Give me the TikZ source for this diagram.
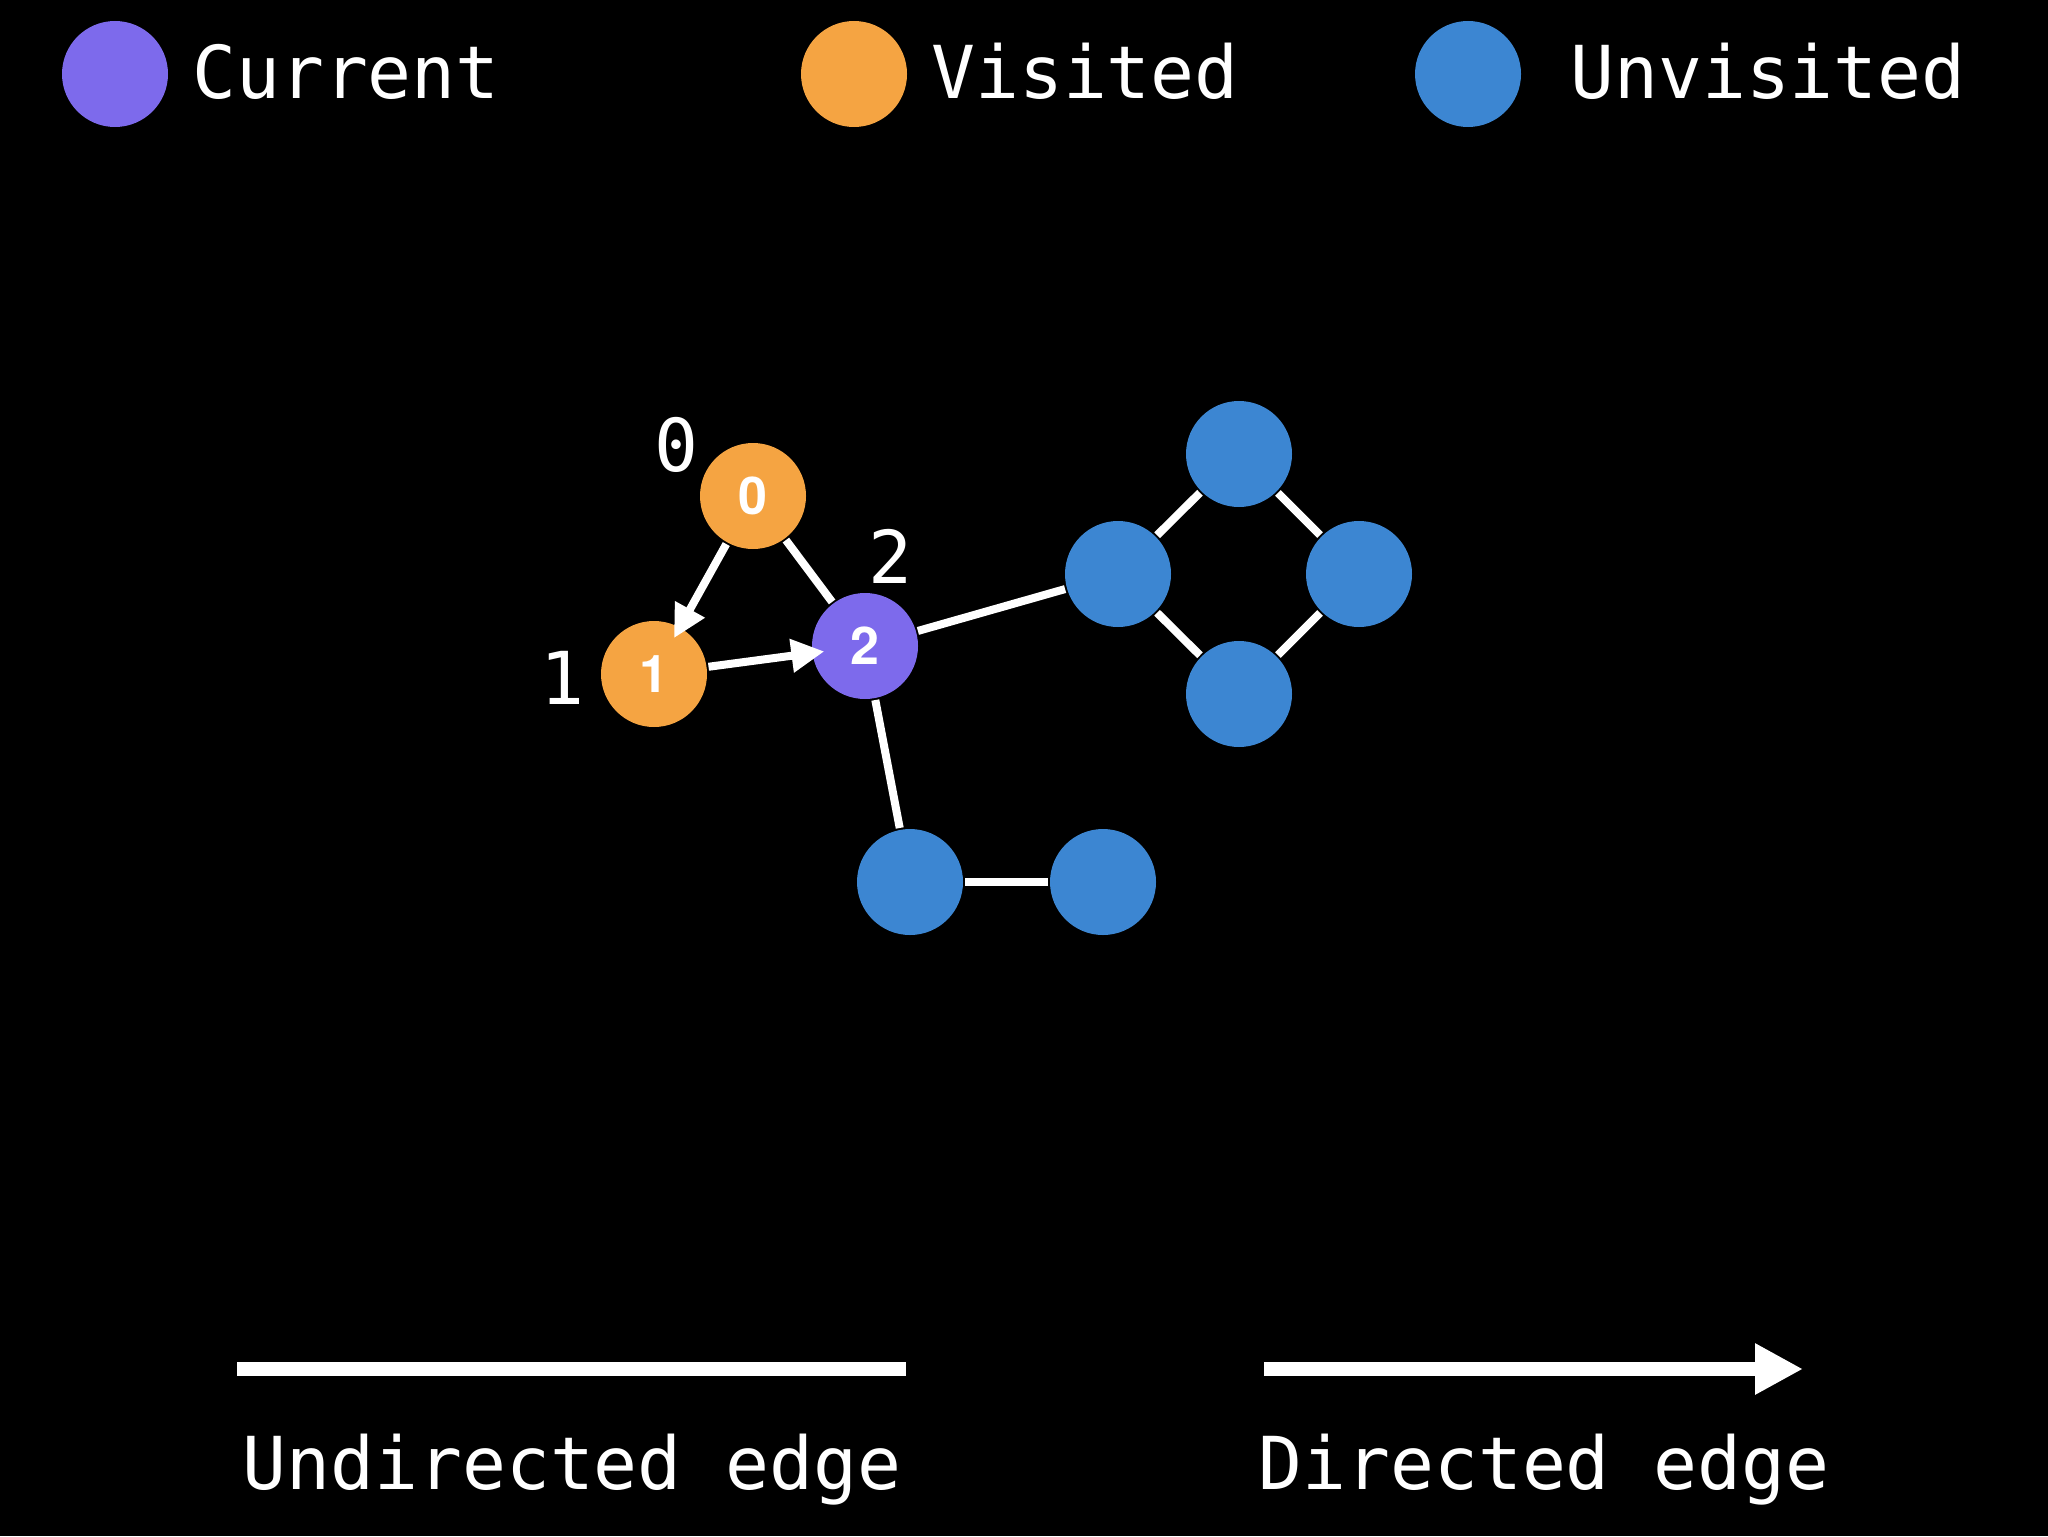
\documentclass[tikz,border=0pt]{standalone}
\usepackage{fontspec}
\setmonofont{DejaVu Sans Mono}
\newfontfamily\labfont{TeX Gyre Heros}[BoldFont={* Bold}]
\usetikzlibrary{arrows.meta}
\definecolor{cur}{RGB}{125,106,236}
\definecolor{vis}{RGB}{245,164,66}
\definecolor{unv}{RGB}{60,134,210}
\begin{document}
\begin{tikzpicture}[x=0.5pt,y=-0.5pt,
  vnode/.style={circle,minimum size=53pt,inner sep=0pt,outer sep=1pt,text=white},
  nlab/.style={font={\labfont\bfseries\fontsize{26}{26}\selectfont}},
  txt/.style={text=white,inner sep=0pt,font=\ttfamily\fontsize{36.5}{40}\selectfont,anchor=base},
  edge/.style={draw=white,line width=4pt},
  arr/.style={edge,-{Triangle[length=16.5pt,width=16pt]},shorten >=-7pt},
  big/.style={draw=white,line width=7pt}
]
\fill[black] (0,0) rectangle (2048,1536);
\useasboundingbox (0,0) rectangle (2048,1536);

% legend
\node[vnode,fill=cur] (lc) at (115,74) {};
\node[txt] (lct) at (346,98) {Current};
\node[vnode,fill=vis] (lv) at (854,74) {};
\node[txt] (lvt) at (1085,98) {Visited};
\node[vnode,fill=unv] (lu) at (1468,74) {};
\node[txt] (lut) at (1768,98) {Unvisited};

% graph nodes
\node[vnode,nlab,fill=vis] (n0) at (753,496) {0};
\node[vnode,nlab,fill=vis] (n1) at (654,674) {1};
\node[vnode,nlab,fill=cur] (n2) at (865,646) {2};
\node[vnode,fill=unv] (b1) at (1118,574) {};
\node[vnode,fill=unv] (b2) at (1239,454) {};
\node[vnode,fill=unv] (b3) at (1359,574) {};
\node[vnode,fill=unv] (b4) at (1239,694) {};
\node[vnode,fill=unv] (b5) at (910,882) {};
\node[vnode,fill=unv] (b6) at (1103,882) {};

% distance labels
\node[txt] (l0) at (676,471) {0};
\node[txt] (l2) at (890,583) {2};
\node[txt] (l1) at (562,704) {1};

% edges
\draw[edge] (n0) -- (n2);
\draw[edge] (n2) -- (b1);
\draw[edge] (b1) -- (b2);
\draw[edge] (b2) -- (b3);
\draw[edge] (b3) -- (b4);
\draw[edge] (b4) -- (b1);
\draw[edge] (n2) -- (b5);
\draw[edge] (b5) -- (b6);
\draw[arr] (n0) -- (n1);
\draw[arr] (n1) -- (n2);

% bottom legend
\coordinate (u1) at (237,1369);
\coordinate (u2) at (906,1369);
\coordinate (d1) at (1264,1369);
\coordinate (d2) at (1803,1369);
\draw[big] (u1) -- (u2);
\draw[big,-{Triangle[length=24pt,width=24pt]}] (d1) -- (d2);
\node[txt] (ut) at (572,1489) {Undirected edge};
\node[txt] (dt) at (1544,1489) {Directed edge};
\end{tikzpicture}
\end{document}
